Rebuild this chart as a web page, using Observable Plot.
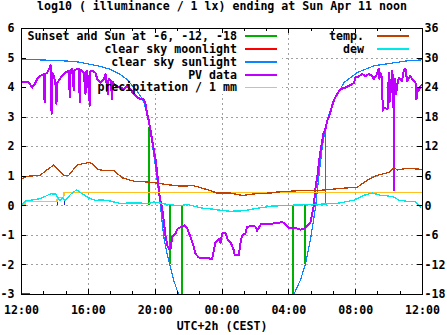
<!DOCTYPE html>
<html><head><meta charset="utf-8">
<script src="https://cdn.jsdelivr.net/npm/d3@7"></script>
<script src="https://cdn.jsdelivr.net/npm/@observablehq/plot@0.6"></script>
<style>
body{margin:0;background:#fff;}
#chart svg{display:block;}
#chart svg path, #chart svg line{shape-rendering:crispEdges;}
</style></head><body><div id="chart"></div>
<script>
// ---------- text ----------
const title = "log10 ( illuminance / 1 lx) ending at Sun Apr 11 noon";
const xLabel = "UTC+2h (CEST)";
const xMajor = [0, 4, 8, 12, 16, 20, 24];            // hours after Sat 12:00
const xTickLabels = ["12:00", "16:00", "20:00", "00:00", "04:00", "08:00", "12:00"];
const xMinor = [1.333, 2.667, 5.333, 6.667, 9.333, 10.667, 13.333, 14.667, 17.333, 18.667, 21.333, 22.667];
const yTicksLeft = [-3, -2, -1, 0, 1, 2, 3, 4, 5, 6];
const yTicksRight = [-18, -12, -6, 0, 6, 12, 18, 24, 30, 36];
const keyLeftLabels = ["Sunset and Sun at -6, -12, -18", "clear sky moonlight", "clear sky sunlight", "PV data", "precipitation / 1 mm"];
const keyRightLabels = ["temp.", "dew"];

// ---------- data ----------
// clear sky sunlight (log10 lx)
const sunEveH = [0, 1, 2, 2.7, 3.5, 4, 4.7, 5.3, 5.9, 6.3, 6.9, 7.3, 7.62, 7.8, 8.0, 8.12, 8.3, 8.5, 8.7, 8.9, 9.1, 9.4, 9.6];
const sunEveV = [4.95, 4.94, 4.92, 4.9, 4.86, 4.8, 4.72, 4.62, 4.45, 4.28, 3.9, 3.55, 2.87, 2.2, 1.4, 0.85, 0.1, -1.0, -1.6, -2.05, -2.5, -3.0, -3.3];
const sunMorH = [16.1, 16.3, 16.7, 17.0, 17.3, 17.6, 17.8, 18.0, 18.2, 18.6, 19.3, 20.1, 21.1, 22.3, 23.0, 24];
const sunMorV = [-3.3, -3.0, -2.5, -1.96, -1.12, -0.04, 1.02, 1.97, 2.7, 3.45, 4.17, 4.51, 4.74, 4.84, 4.9, 4.94];
// clear sky moonlight
const moonH = [0.1, 0.45];
const moonV = [-2.97, -2.97];
// sunset and sun at -6, -12, -18 deg
const sunsetH = [7.62, 8.88, 9.6, 16.24, 16.96, 18.2];
const sunsetFrom = [0, 0, 0, 0, 0, 0];
const sunsetTo = [2.65, -2, -3, -3, -2, 2.65];
// PV data
const pvH = [0, 0.24, 0.44, 0.64, 0.78, 0.94, 1.14, 1.35, 1.38, 1.41,
  1.54, 1.69, 1.74, 1.8, 1.84, 1.93, 2.03, 2.09, 2.14, 2.23,
  2.44, 2.63, 2.83, 2.89, 2.93, 3.03, 3.13, 3.17, 3.43, 3.49,
  3.53, 3.73, 3.83, 3.87, 3.93, 4.09, 4.13, 4.23, 4.43, 4.53,
  4.73, 4.93, 5.03, 5.16, 5.21, 5.33, 5.43, 5.46, 5.63, 5.92,
  6.12, 6.33, 6.52, 6.72, 6.92, 7.12, 7.32, 7.42, 7.52, 7.62,
  7.72, 7.92, 8.02, 8.12, 8.27, 8.42, 8.52, 8.62, 8.72, 8.81,
  8.92, 9.02, 9.11, 9.22, 9.32, 9.41, 9.62, 9.77, 9.92, 10.11,
  10.31, 10.41, 10.61, 11.0, 11.41, 11.51, 11.61, 11.81, 11.91, 12.01,
  12.21, 12.35, 12.51, 12.71, 12.77, 13.0, 13.1, 13.2, 13.4, 13.5,
  13.7, 14.0, 14.1, 14.2, 14.34, 14.9, 15.3, 15.6, 15.8, 16.0,
  16.4, 16.7, 16.9, 17.13, 17.3, 17.4, 17.49, 17.6, 17.7, 17.79,
  17.89, 18.0, 18.09, 18.19, 18.29, 18.39, 18.69, 18.89, 19.09, 19.39,
  19.59, 19.89, 19.99, 20.19, 20.39, 20.59, 20.78, 20.99, 21.08, 21.28,
  21.38, 21.42, 21.48, 21.58, 21.62, 21.68, 21.88, 21.93, 21.98, 22.02,
  22.08, 22.18, 22.26, 22.28, 22.31, 22.34, 22.42, 22.48, 22.58, 22.78,
  22.88, 22.98, 23.08, 23.18, 23.28, 23.38, 23.48, 23.58, 23.64, 23.72,
  23.78, 23.88, 23.98];
const pvV = [4.17, 4.2, 4.18, 4.0, 4.11, 4.29, 4.4, 4.45, 3.5, 4.45,
  4.51, 4.68, 4.75, 3.1, 4.5, 4.4, 4.17, 3.45, 4.15, 4.24,
  4.4, 4.51, 4.57, 3.67, 4.57, 4.63, 3.9, 4.6, 4.63, 3.5,
  4.6, 4.5, 3.78, 4.55, 4.57, 3.39, 4.55, 4.57, 4.5, 4.29,
  4.17, 4.3, 4.46, 3.78, 4.3, 4.24, 3.61, 4.2, 4.06, 4.0,
  3.95, 4.05, 3.95, 3.78, 3.67, 3.61, 3.6, 3.45, 3.11, 2.88,
  2.55, 1.88, 1.6, 1.1, 0.3, -0.1, -0.55, -1.02, -1.33, -1.45,
  -1.47, -1.05, -1.0, -0.94, -0.8, -0.74, -0.72, -0.66, -0.77, -1.05,
  -1.39, -1.62, -1.75, -1.77, -1.79, -1.51, -1.23, -1.12, -1.26, -0.94,
  -0.91, -1.17, -1.23, -1.51, -1.68, -1.68, -1.28, -1.0, -0.94, -0.72,
  -0.69, -0.7, -0.84, -0.75, -0.61, -0.61, -0.58, -0.55, -0.62, -0.74,
  -0.75, -0.81, -0.77, -0.66, -0.55, -0.27, 0.0, 0.63, 0.97, 1.42,
  1.82, 2.21, 2.49, 2.6, 2.88, 3.0, 3.56, 3.79, 3.95, 4.0,
  4.06, 4.15, 4.34, 4.38, 4.46, 4.38, 4.46, 4.4, 4.29, 4.46,
  4.63, 4.3, 4.5, 4.34, 3.22, 3.33, 3.28, 3.3, 4.51, 3.5,
  3.78, 4.58, 4.2, 0.52, 4.1, 4.3, 3.78, 4.07, 4.34, 4.23,
  4.58, 4.63, 4.23, 4.3, 4.4, 4.29, 4.23, 4.17, 3.6, 3.95,
  3.9, 4.06, 4.1];
// precipitation / 1 mm (cumulative, log scale units)
const precipH = [0, 0.2, 0.25, 2.13, 2.15, 2.52, 2.55, 24];
const precipV = [0.02, 0.02, 0.145, 0.145, 0.29, 0.29, 0.45, 0.45];
const rainH = [0.2, 2.15, 2.55];
const rainV = [0.1, 0.19, 0.19];
// temperature (deg C, right axis)
const tempH = [0, 0.34, 1.14, 1.33, 1.93, 2.23, 2.53, 2.83, 3.33, 4.03, 4.23, 4.53, 4.83, 5.52, 6.02, 6.72, 7.31, 7.91, 8.71, 9.51, 10.3, 11.1, 11.7, 12.5, 13.2, 14.1, 14.9, 15.3, 16.7, 17.7, 19.0, 20.1, 20.7, 21.3, 22.0, 22.3, 22.5, 23.1, 24];
const tempC = [5.5, 6.0, 6.2, 6.8, 8.3, 7.2, 6.2, 6.2, 8.3, 8.8, 8.5, 7.5, 7.2, 7.2, 5.7, 5.0, 4.9, 4.7, 4.3, 4.0, 4.1, 3.3, 2.6, 2.6, 2.1, 2.5, 2.6, 2.8, 3.1, 3.1, 3.5, 3.8, 5.2, 6.2, 6.8, 7.7, 7.3, 7.6, 7.4];
// dew point (deg C, right axis)
const dewH = [0, 0.24, 0.54, 1.14, 1.74, 2.03, 2.29, 2.43, 2.63, 2.93, 3.29, 3.63, 4.03, 4.43, 4.73, 5.13, 5.52, 5.92, 6.72, 7.62, 7.91, 8.71, 9.51, 9.91, 10.7, 11.5, 11.9, 12.5, 13.3, 14.1, 14.9, 15.9, 17.7, 18.9, 19.9, 20.5, 21.0, 21.5, 22.2, 22.6, 23.1, 23.6, 23.9];
const dewC = [0, 1.1, 1.15, 1.45, 2.45, 2.4, 1.1, 1.6, 1.1, 2.3, 3.25, 2.45, 1.6, 1.1, 1.2, 1.1, 0.8, 0.5, 0.6, 0.5, 0.8, 0.3, 0, 0.3, -0.4, -0.7, -0.9, -1.1, -1.0, -0.5, -0.1, 0.1, 0.3, 0.5, 1.15, 2.15, 2.6, 2.15, 1.9, 1.15, 0.9, 0.8, -0.35];

// ---------- styles ----------
const COL = {sunset: "#00b000", moon: "#ff0000", clear: "#0a84ff", pv: "#c000ff", precip: "#ffc020", temp: "#c04000", dew: "#00e8e8", rain: "#2424c8", grid: "#a0a0a0"};
const W = 447, H = 335, ML = 21, MR = 25, MT = 28, MB = 41;
const FONT = "'DejaVu Sans Mono', 'Liberation Mono', monospace";
const FS = 11.6;

const rows = (hs, vs) => hs.map((h, i) => ({h, v: vs[i]}));
const sunEve = rows(sunEveH, sunEveV);
const sunMor = rows(sunMorH, sunMorV);
const moon = rows(moonH, moonV);
const pv = rows(pvH, pvV);
const precip = rows(precipH, precipV);
const rain = rows(rainH, rainV);
const temp = rows(tempH, tempC);
const dew = rows(dewH, dewC);
const sunset = sunsetH.map((h, i) => ({h, a: sunsetFrom[i], b: sunsetTo[i]}));
const perDeg = 6; // right axis: 6 deg C per left unit

function keyBackground() {
  const g = d3.create("svg:g");
  g.append("rect").attr("x", ML + 1).attr("y", MT + 1).attr("width", 260).attr("height", 65).attr("fill", "white");
  return g.node();
}
function keyEntries() {
  const g = d3.create("svg:g").attr("font-family", FONT).attr("font-size", FS).attr("font-weight", "bold");
  const leftCols = [COL.sunset, COL.moon, COL.clear, COL.pv, COL.precip];
  const rightCols = [COL.temp, COL.dew];
  const rowY = i => MT + 8 + 12.93 * i;
  keyLeftLabels.forEach((t, i) => {
    g.append("text").attr("x", 237).attr("y", rowY(i)).attr("dy", "0.32em").attr("text-anchor", "end").text(t);
    g.append("line").attr("x1", 245).attr("x2", 277).attr("y1", rowY(i)).attr("y2", rowY(i)).attr("stroke", leftCols[i]).attr("stroke-width", 1.5);
  });
  keyRightLabels.forEach((t, i) => {
    g.append("text").attr("x", 364).attr("y", rowY(i)).attr("dy", "0.32em").attr("text-anchor", "end").text(t);
    g.append("line").attr("x1", 377).attr("x2", 409).attr("y1", rowY(i)).attr("y2", rowY(i)).attr("stroke", rightCols[i]).attr("stroke-width", 1.5);
  });
  return g.node();
}

const gridStyle = {stroke: COL.grid, strokeDasharray: "2,3", strokeWidth: 1, strokeOpacity: 1};
const tk = {stroke: "black", strokeWidth: 1};

const chart = Plot.plot({
  width: W, height: H,
  marginTop: MT, marginBottom: MB, marginLeft: ML, marginRight: MR,
  x: {domain: [0, 24], axis: null},
  y: {domain: [-3, 6], axis: null},
  style: {fontFamily: FONT, fontSize: FS + "px", fontWeight: "bold", background: "white", color: "black"},
  marks: [
    Plot.ruleX(xMajor.slice(1, -1), {x: d => d, ...gridStyle}),
    Plot.ruleY(yTicksLeft.slice(1, -1), {y: d => d, ...gridStyle}),
    keyBackground,
    Plot.ruleX(sunset, {x: "h", y1: "a", y2: "b", stroke: COL.sunset, strokeWidth: 1.5, clip: true}),
    Plot.line(moon, {x: "h", y: "v", stroke: COL.moon, strokeWidth: 2, clip: true}),
    Plot.line(sunEve, {x: "h", y: "v", stroke: COL.clear, strokeWidth: 1.2, clip: true}),
    Plot.line(sunMor, {x: "h", y: "v", stroke: COL.clear, strokeWidth: 1.2, clip: true}),
    Plot.line(pv, {x: "h", y: "v", stroke: COL.pv, strokeWidth: 2, clip: true}),
    Plot.ruleX(rain, {x: "h", y1: 0, y2: "v", stroke: COL.rain, strokeWidth: 1.2}),
    Plot.line(precip, {x: "h", y: "v", stroke: COL.precip, strokeWidth: 1.5, clip: true}),
    Plot.line(temp, {x: "h", y: d => d.v / perDeg, stroke: COL.temp, strokeWidth: 1.3, clip: true}),
    Plot.line(dew, {x: "h", y: d => d.v / perDeg, stroke: COL.dew, strokeWidth: 1.3, clip: true}),
    Plot.frame({stroke: "black", strokeWidth: 1}),
    // inward ticks, bottom & top
    Plot.ruleX(xMajor, {x: d => d, y1: -3, y2: -3, insetTop: -5, ...tk}),
    Plot.ruleX(xMajor, {x: d => d, y1: 6, y2: 6, insetBottom: -5, ...tk}),
    Plot.ruleX(xMinor, {x: d => d, y1: -3, y2: -3, insetTop: -3, ...tk}),
    Plot.ruleX(xMinor, {x: d => d, y1: 6, y2: 6, insetBottom: -3, ...tk}),
    // inward ticks, left & right
    Plot.ruleY(yTicksLeft, {y: d => d, x1: 0, x2: 0, insetRight: -5, ...tk}),
    Plot.ruleY(yTicksLeft, {y: d => d, x1: 24, x2: 24, insetLeft: -5, ...tk}),
    // tick labels
    Plot.text(xMajor, {x: d => d, frameAnchor: "bottom", lineAnchor: "bottom", dy: 19, text: (d, i) => xTickLabels[i], fill: "black"}),
    Plot.text(yTicksLeft, {y: d => d, frameAnchor: "left", textAnchor: "end", dx: -7, text: d => String(d), fill: "black"}),
    Plot.text(yTicksLeft, {y: d => d, frameAnchor: "right", textAnchor: "start", dx: 2, text: (d, i) => String(yTicksRight[i]), fill: "black"}),
    Plot.text([xLabel], {frameAnchor: "bottom", lineAnchor: "bottom", dy: 35.5, text: d => d, fill: "black"}),
    Plot.text([title], {frameAnchor: "top", lineAnchor: "bottom", dy: -18.5, text: d => d, fill: "black"}),
    keyEntries
  ]
});
document.getElementById("chart").append(chart);
</script>
</body></html>
